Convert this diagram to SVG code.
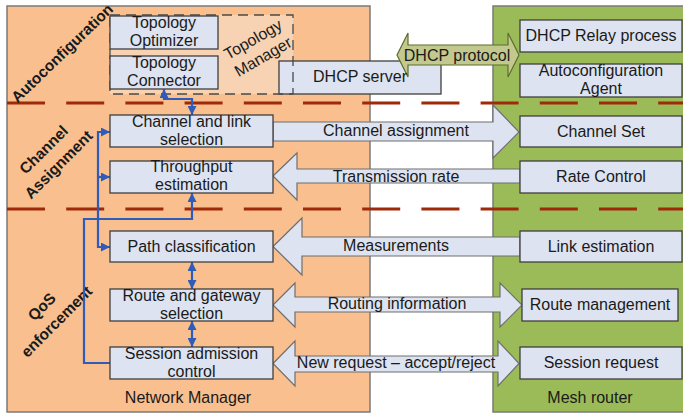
<svg xmlns="http://www.w3.org/2000/svg" width="683" height="414" viewBox="0 0 683 414">
<defs>
<style>
text{font-family:"Liberation Sans",Arial,sans-serif;font-size:16px;fill:#1a1a1a}
.c{text-anchor:middle}
.b{font-weight:bold;font-size:15.5px}
.box{fill:#dde3f0;stroke:#3f3f3f;stroke-width:1.3}
.arr{fill:#dde3f0;stroke:#6f6f6f;stroke-width:1.2}
.sep{stroke:#9e2a0a;stroke-width:3;stroke-dasharray:38 21.2;fill:none}
.blue{stroke:#2e5cba;stroke-width:2.2;fill:none}
</style>
<marker id="ah" viewBox="0 0 10 10" refX="10" refY="5" markerWidth="9" markerHeight="9" markerUnits="userSpaceOnUse" orient="auto-start-reverse">
<path d="M0,0 L10,5 L0,10 z" fill="#2e5cba"/>
</marker>
</defs>

<g id="panels">
<rect x="7" y="6" width="363" height="406" fill="#f9bf8f" stroke="#7a7a7a" stroke-width="1.5"/>
<rect x="493" y="6" width="195" height="406" fill="#9bbb59" stroke="#7a7a7a" stroke-width="1.5"/>
</g>

<g id="separators">
<line class="sep" x1="7" y1="103" x2="683" y2="103"/>
<line class="sep" x1="7" y1="209" x2="683" y2="209"/>
</g>

<g id="section-labels">
<g transform="translate(62,53) rotate(-44)"><text class="c b" x="0" y="5.5">Autoconfiguration</text></g>
<g transform="translate(51,157) rotate(-45)"><text class="c b" x="0" y="-5">Channel</text><text class="c b" x="0" y="16">Assignment</text></g>
<g transform="translate(49,314) rotate(-45)"><text class="c b" x="0" y="-5">QoS</text><text class="c b" x="0" y="16">enforcement</text></g>
</g>

<g id="topology-manager">
<rect x="110" y="15" width="183" height="79" fill="#f7d2b3"/>
</g>

<g id="dhcp-server">
<rect class="box" x="279" y="61" width="162" height="33"/>
</g>

<g id="topology-manager-outline">
<rect x="110" y="15" width="183" height="79" fill="none" stroke="#4a4a4a" stroke-width="1.3" stroke-dasharray="10 6"/>
<g transform="translate(258,48) rotate(-30)"><text class="c" x="0" y="-4.5">Topology</text><text class="c" x="0" y="15.5">Manager</text></g>
</g>

<g id="topology-optimizer">
<rect class="box" x="110" y="16" width="108" height="33"/>
<text class="c" x="164" y="28">Topology</text><text class="c" x="164" y="46">Optimizer</text>
</g>
<g id="topology-connector">
<rect class="box" x="110" y="56" width="108" height="33"/>
<text class="c" x="164" y="68">Topology</text><text class="c" x="164" y="86">Connector</text>
</g>

<g id="connectors">
<path class="arr" d="M273,122 H493 V105 L519,132 L493,158 V141 H273 Z"/>
<path class="arr" d="M273,176 L297,153 V169 H520 V183 H297 V200 Z"/>
<path class="arr" d="M273,246.5 L302,218 V237 H520 V256 H302 V275 Z"/>
<path class="arr" d="M273,305 L295,283 V297 H500 V283 L522,305 L500,327 V312 H295 V327 Z"/>
<path class="arr" d="M273,363.5 L295,341 V356 H498 V341 L519,363.5 L498,386 V372 H295 V386 Z"/>
<path d="M397,55 L408,33 V45 H508 V33 L519,55 L508,77 V65 H408 V77 Z" fill="#c2c88e" stroke="#5b6e2b" stroke-width="1.2"/>
<text class="c" x="457" y="61">DHCP protocol</text>
<text class="c" x="396" y="136">Channel assignment</text>
<text class="c" x="396" y="182">Transmission rate</text>
<text class="c" x="396" y="251">Measurements</text>
<text class="c" x="397" y="309">Routing information</text>
<text class="c" x="396" y="368">New request – accept/reject</text>

<path class="blue" d="M164,89 V99 H192 V115" marker-start="url(#ah)" marker-end="url(#ah)"/>
<path class="blue" d="M110,363 H84 V219 H192 V193" marker-end="url(#ah)"/>
<path class="blue" d="M98,219 V132 H110" marker-end="url(#ah)"/>
<path class="blue" d="M98,177 H110" marker-end="url(#ah)"/>
<path class="blue" d="M98,219 V247 H110" marker-end="url(#ah)"/>
<path class="blue" d="M192,262 V289" marker-start="url(#ah)" marker-end="url(#ah)"/>
<path class="blue" d="M192,321 V347" marker-start="url(#ah)" marker-end="url(#ah)"/>
</g>

<text class="c" x="360" y="82">DHCP server</text>

<g id="channel-link-selection">
<rect class="box" x="110" y="115" width="163" height="32"/>
<text class="c" x="191.5" y="127">Channel and link</text><text class="c" x="191.5" y="145">selection</text>
</g>
<g id="throughput-estimation">
<rect class="box" x="110" y="161" width="163" height="32"/>
<text class="c" x="191.5" y="172">Throughput</text><text class="c" x="191.5" y="190">estimation</text>
</g>
<g id="path-classification">
<rect class="box" x="110" y="231" width="163" height="31"/>
<text class="c" x="191.5" y="252">Path classification</text>
</g>
<g id="route-gateway-selection">
<rect class="box" x="110" y="289" width="163" height="32"/>
<text class="c" x="191.5" y="301">Route and gateway</text><text class="c" x="191.5" y="319">selection</text>
</g>
<g id="session-admission-control">
<rect class="box" x="110" y="347" width="163" height="32"/>
<text class="c" x="191.5" y="359">Session admission</text><text class="c" x="191.5" y="377">control</text>
</g>
<text class="c" x="188" y="403">Network Manager</text>

<g id="dhcp-relay">
<rect class="box" x="520" y="20" width="162" height="32"/>
<text class="c" x="601" y="41">DHCP Relay process</text>
</g>
<g id="autoconfiguration-agent">
<rect class="box" x="520" y="64" width="162" height="33"/>
<text class="c" x="601" y="76">Autoconfiguration</text><text class="c" x="601" y="94">Agent</text>
</g>
<g id="channel-set">
<rect class="box" x="520" y="116" width="162" height="31"/>
<text class="c" x="601" y="137">Channel Set</text>
</g>
<g id="rate-control">
<rect class="box" x="520" y="161" width="162" height="32"/>
<text class="c" x="601" y="182">Rate Control</text>
</g>
<g id="link-estimation">
<rect class="box" x="520" y="231" width="162" height="31"/>
<text class="c" x="601" y="252">Link estimation</text>
</g>
<g id="route-management">
<rect class="box" x="522" y="289" width="156" height="32"/>
<text class="c" x="600" y="310">Route management</text>
</g>
<g id="session-request">
<rect class="box" x="520" y="347" width="162" height="32"/>
<text class="c" x="601" y="368">Session request</text>
</g>
<text class="c" x="590" y="403">Mesh router</text>
</svg>
